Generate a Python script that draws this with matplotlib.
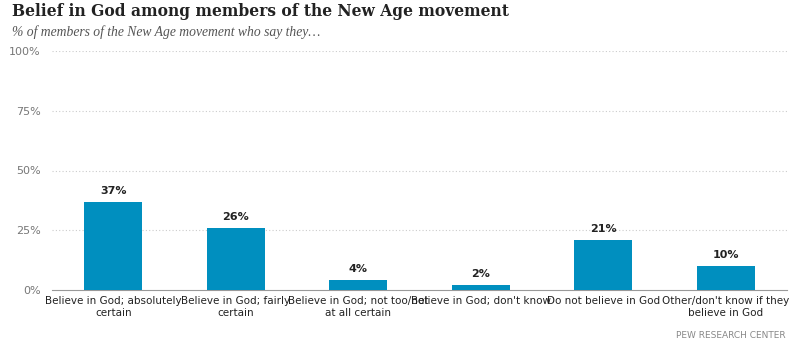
import matplotlib.pyplot as plt
import numpy as np

categories = [
    "Believe in God; absolutely\ncertain",
    "Believe in God; fairly\ncertain",
    "Believe in God; not too/not\nat all certain",
    "Believe in God; don't know",
    "Do not believe in God",
    "Other/don't know if they\nbelieve in God",
]
values = [37, 26, 4, 2, 21, 10]
yticks = [0, 25, 50, 75, 100]

BAR_COLOR = "#008fbf"

fig = plt.figure(figsize=(8, 3.44), dpi=100)
ax = fig.add_axes([52 / 800, 54 / 344, 735 / 800, 239 / 344])

x = np.arange(len(categories))
ax.bar(x, values, width=0.47, color=BAR_COLOR, zorder=3)
for xi, v in zip(x, values):
    ax.text(xi, v + 2.5, f"{v}%", ha="center", va="bottom", fontsize=8,
            fontweight="bold", color="#222222")

ax.set_xlim(-0.5, len(categories) - 0.5)
ax.set_ylim(0, 100)
ax.set_yticks(yticks)
ax.set_yticklabels([f"{t}%" for t in yticks], fontsize=8, color="#777777")
ax.set_xticks(x)
ax.set_xticklabels(categories, fontsize=7.5, color="#222222", linespacing=1.3)
ax.tick_params(axis="both", length=0)
ax.tick_params(axis="y", pad=8)
ax.tick_params(axis="x", pad=4)
for yv in yticks[1:]:
    ax.axhline(yv, color="#cccccc", linestyle=(0, (1, 2)), linewidth=0.8, zorder=1)
for s in ["top", "right", "left"]:
    ax.spines[s].set_visible(False)
ax.spines["bottom"].set_color("#999999")
ax.spines["bottom"].set_linewidth(0.8)

fig.text(12 / 800, 1 - 11 / 344, "Belief in God among members of the New Age movement",
         fontsize=11.2, fontweight="bold", family="DejaVu Serif", color="#222222", va="center")
fig.text(12 / 800, 1 - 32 / 344, "% of members of the New Age movement who say they\u2026",
         fontsize=9.8, style="italic", family="Liberation Serif", color="#555555", va="center")
fig.text(786 / 800, 1 - 336 / 344, "PEW RESEARCH CENTER", fontsize=6.5, color="#888888",
         ha="right", va="center")

fig.savefig("out.png", dpi=100)
